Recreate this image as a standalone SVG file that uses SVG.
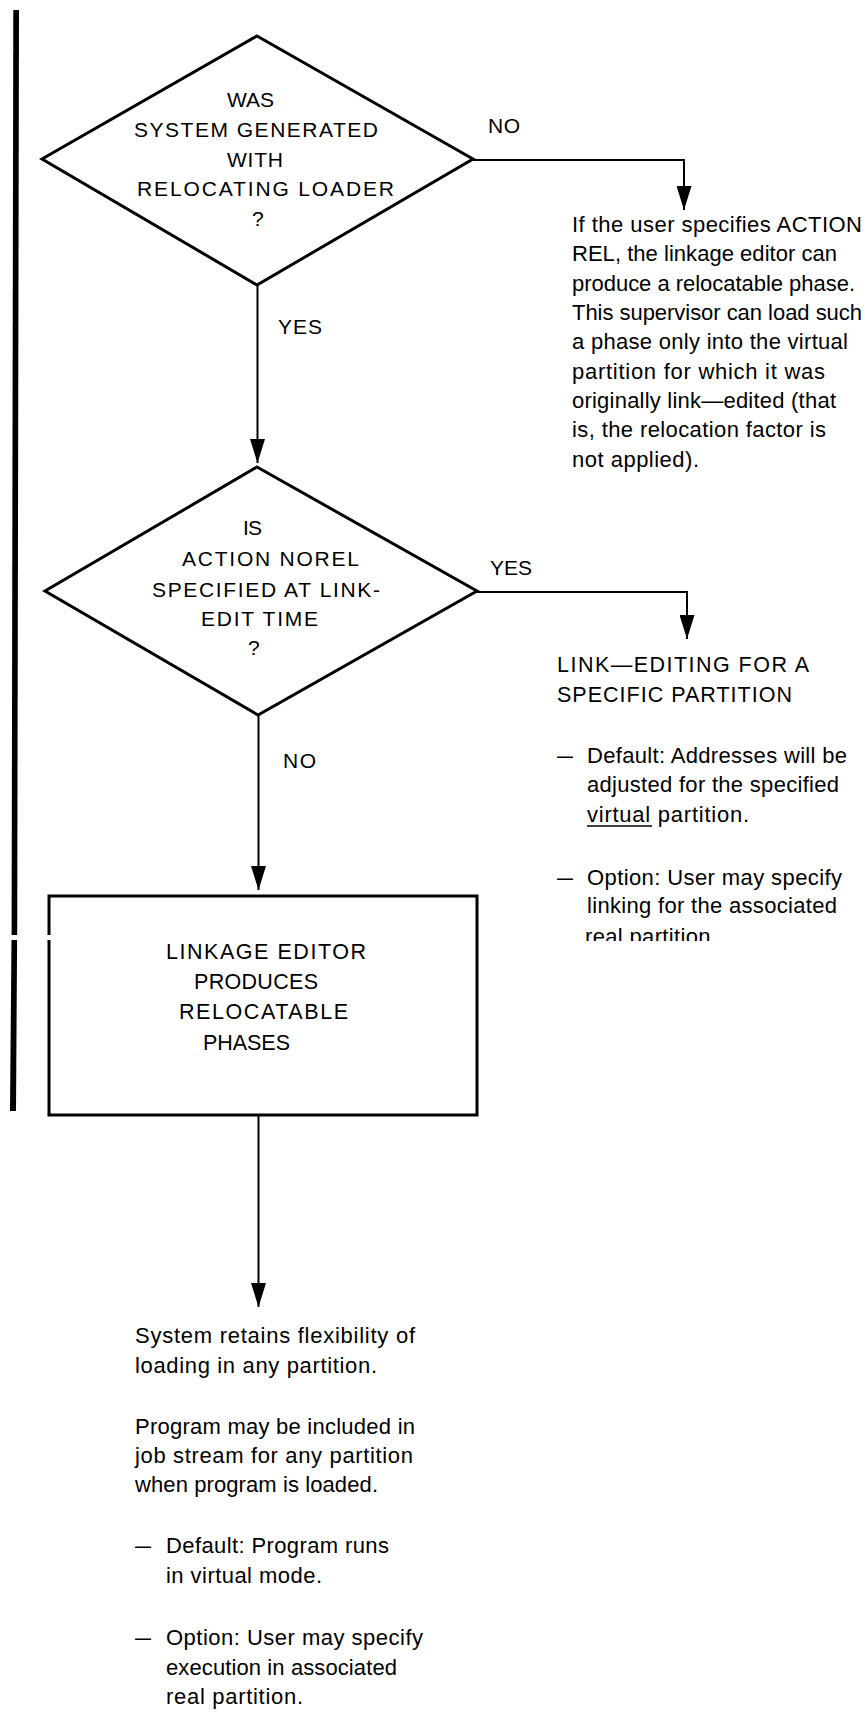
<svg xmlns="http://www.w3.org/2000/svg" width="865" height="1712" viewBox="0 0 865 1712">
  <style>
    .shape { fill: none; stroke: #000; stroke-width: 3; stroke-linejoin: miter; }
    .conn { fill: none; stroke: #000; stroke-width: 2; }
    text { font-family: "Liberation Sans", Arial, sans-serif; fill: #000; }
    .caps { font-size: 21px; }
    .boxcaps { font-size: 21.5px; }
    .body { font-size: 22px; }
    .head { font-size: 21.5px; }
  </style>
  <defs>
    <marker id="arrow" markerUnits="userSpaceOnUse" markerWidth="25" markerHeight="15" refX="24" refY="7.5" orient="auto">
      <path d="M0,0 L24,7.5 L0,15 z" fill="#000"/>
    </marker>
    <clipPath id="cut">
      <rect x="0" y="0" width="865" height="941"/>
    </clipPath>
  </defs>
  <rect width="865" height="1712" fill="#fff"/>

  <!-- change bar along the left margin -->
  <g id="margin-bar" fill="#000">
    <polygon points="13.3,10 19,10 17.2,935 11.6,935"/>
    <polygon points="11.5,940 17.1,940 16,1111 10,1111"/>
  </g>

  <!-- connectors -->
  <g id="connectors">
    <path class="conn" d="M473,160 H684 V210" marker-end="url(#arrow)"/>
    <path class="conn" d="M257.5,285 V463" marker-end="url(#arrow)"/>
    <path class="conn" d="M477,592 H687 V639" marker-end="url(#arrow)"/>
    <path class="conn" d="M258.5,715 V890" marker-end="url(#arrow)"/>
    <path class="conn" d="M258.5,1115 V1307" marker-end="url(#arrow)"/>
  </g>

  <!-- branch labels -->
  <g id="labels" class="caps">
    <text x="488" y="133" textLength="32" lengthAdjust="spacing">NO</text>
    <text x="278" y="334" textLength="44" lengthAdjust="spacing">YES</text>
    <text x="490" y="575" textLength="42" lengthAdjust="spacing">YES</text>
    <text x="283" y="768" textLength="33" lengthAdjust="spacing">NO</text>
  </g>

  <g id="decision-loader" class="caps">
    <polygon class="shape" points="257,36 473,159 257,285 42,159"/>
    <text x="227" y="107" textLength="47" lengthAdjust="spacing">WAS</text>
    <text x="134" y="137" textLength="244" lengthAdjust="spacing">SYSTEM GENERATED</text>
    <text x="227" y="167" textLength="56" lengthAdjust="spacing">WITH</text>
    <text x="137" y="196" textLength="257" lengthAdjust="spacing">RELOCATING LOADER</text>
    <text x="252" y="226">?</text>
  </g>

  <g id="decision-norel" class="caps">
    <polygon class="shape" points="257,467 477,591 258,715 45,591"/>
    <text x="243" y="535" textLength="19" lengthAdjust="spacing">IS</text>
    <text x="182" y="566" textLength="177" lengthAdjust="spacing">ACTION NOREL</text>
    <text x="152" y="597" textLength="228" lengthAdjust="spacing">SPECIFIED AT LINK-</text>
    <text x="201" y="626" textLength="117" lengthAdjust="spacing">EDIT TIME</text>
    <text x="248" y="655">?</text>
  </g>

  <g id="process-linkage" class="boxcaps">
    <path class="shape" d="M49,935 V896 H477 V1115 H49 V940"/>
    <text x="166" y="959" textLength="200" lengthAdjust="spacing">LINKAGE EDITOR</text>
    <text x="194" y="989" textLength="124" lengthAdjust="spacing">PRODUCES</text>
    <text x="179" y="1019" textLength="169" lengthAdjust="spacing">RELOCATABLE</text>
    <text x="203" y="1050" textLength="87" lengthAdjust="spacing">PHASES</text>
  </g>

  <g id="note-action-rel" class="body">
    <text x="572" y="232" textLength="290" lengthAdjust="spacing">If the user specifies ACTION</text>
    <text x="572" y="261" textLength="265" lengthAdjust="spacing">REL, the linkage editor can</text>
    <text x="572" y="291" textLength="283" lengthAdjust="spacing">produce a relocatable phase.</text>
    <text x="572" y="320" textLength="290" lengthAdjust="spacing">This supervisor can load such</text>
    <text x="572" y="349" textLength="276" lengthAdjust="spacing">a phase only into the virtual</text>
    <text x="572" y="379" textLength="253" lengthAdjust="spacing">partition for which it was</text>
    <text x="572" y="408" textLength="264" lengthAdjust="spacing">originally link—edited (that</text>
    <text x="572" y="437" textLength="254" lengthAdjust="spacing">is, the relocation factor is</text>
    <text x="572" y="467" textLength="127" lengthAdjust="spacing">not applied).</text>
  </g>

  <g id="note-specific-partition" class="body">
    <text class="head" x="557" y="672" textLength="252" lengthAdjust="spacing">LINK—EDITING FOR A</text>
    <text class="head" x="557" y="702" textLength="235" lengthAdjust="spacing">SPECIFIC PARTITION</text>
    <text x="557" y="763" textLength="16" lengthAdjust="spacingAndGlyphs">—</text>
    <text x="587" y="763" textLength="260" lengthAdjust="spacing">Default: Addresses will be</text>
    <text x="587" y="792" textLength="252" lengthAdjust="spacing">adjusted for the specified</text>
    <text x="587" y="822" textLength="162" lengthAdjust="spacing">virtual partition.</text>
    <line x1="587" y1="826" x2="652" y2="826" stroke="#000" stroke-width="1.6"/>
    <text x="557" y="885" textLength="16" lengthAdjust="spacingAndGlyphs">—</text>
    <text x="587" y="885" textLength="255" lengthAdjust="spacing">Option: User may specify</text>
    <text x="587" y="913" textLength="250" lengthAdjust="spacing">linking for the associated</text>
    <text x="585" y="944" textLength="132" lengthAdjust="spacing" clip-path="url(#cut)">real partition,</text>
  </g>

  <g id="note-flexibility" class="body">
    <text x="135" y="1343" textLength="280" lengthAdjust="spacing">System retains flexibility of</text>
    <text x="135" y="1373" textLength="242" lengthAdjust="spacing">loading in any partition.</text>
    <text x="135" y="1434" textLength="280" lengthAdjust="spacing">Program may be included in</text>
    <text x="135" y="1463" textLength="278" lengthAdjust="spacing">job stream for any partition</text>
    <text x="135" y="1492" textLength="243" lengthAdjust="spacing">when program is loaded.</text>
    <text x="135" y="1553" textLength="16" lengthAdjust="spacingAndGlyphs">—</text>
    <text x="166" y="1553" textLength="223" lengthAdjust="spacing">Default: Program runs</text>
    <text x="166" y="1583" textLength="156" lengthAdjust="spacing">in virtual mode.</text>
    <text x="135" y="1645" textLength="16" lengthAdjust="spacingAndGlyphs">—</text>
    <text x="166" y="1645" textLength="257" lengthAdjust="spacing">Option: User may specify</text>
    <text x="166" y="1675" textLength="231" lengthAdjust="spacing">execution in associated</text>
    <text x="166" y="1704" textLength="137" lengthAdjust="spacing">real partition.</text>
  </g>
</svg>
